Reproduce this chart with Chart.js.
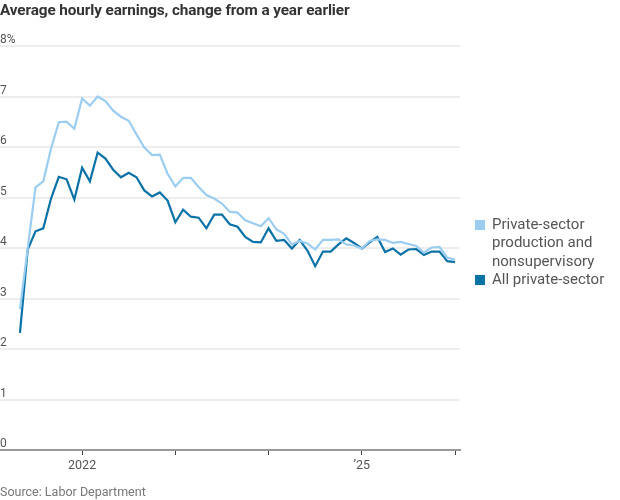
<!DOCTYPE html>
<html>
<head>
<meta charset="utf-8">
<script src="https://cdn.jsdelivr.net/npm/chart.js@4"></script>
<style>
    body { margin: 0; background: #fff; }
    #wrap { position: relative; width: 620px; height: 500px; overflow: hidden; }
    #chart { position: absolute; left: 0; top: 0; }
    .titulo { position: absolute; left: 0; top: 1px; font: bold 15.3px 'Roboto', sans-serif; color: #333; letter-spacing: -0.1px; }
    .fuente { position: absolute; left: 0; top: 484px; font: 12.5px 'Roboto', sans-serif; color: #777; }
    .leyenda { position: absolute; left: 475px; top: 215px; font: 15px 'Roboto', sans-serif; color: #555; line-height: 18.3px; }
    .leyenda div { position: relative; padding-left: 17px; }
    .leyenda span { position: absolute; left: 0; top: 5px; width: 10px; height: 10px; }
</style>
</head>
<body>
<div id="wrap">
    <canvas id="chart" width="620" height="500"></canvas>
    <div class="titulo">Average hourly earnings, change from a year earlier</div>
    <div class="leyenda">
        <div><span style="background:#9bcdf0"></span>Private-sector<br>production and<br>nonsupervisory</div>
        <div><span style="background:#0b72a8"></span>All private-sector</div>
    </div>
    <div class="fuente">Source: Labor Department</div>
</div>
<script>
// Meses desde mayo 2021 (0) hasta enero 2026 (56)
const meses = Array.from({ length: 57 }, (_, i) => i);

const produccion = [
    2.79, 4.00, 5.20, 5.32, 5.97, 6.49, 6.50, 6.36, 6.96, 6.82,
    7.00, 6.91, 6.72, 6.60, 6.52, 6.25, 5.99, 5.84, 5.85, 5.47,
    5.22, 5.39, 5.39, 5.21, 5.05, 4.98, 4.88, 4.72, 4.70, 4.55,
    4.49, 4.43, 4.59, 4.37, 4.28, 4.07, 4.14, 4.09, 3.97, 4.16,
    4.16, 4.17, 4.07, 4.05, 3.99, 4.14, 4.17, 4.16, 4.10, 4.12,
    4.08, 4.04, 3.91, 4.01, 4.02, 3.81, 3.77
];

const privado = [
    2.32, 3.97, 4.33, 4.39, 4.98, 5.41, 5.36, 4.96, 5.59, 5.32,
    5.89, 5.77, 5.55, 5.40, 5.49, 5.40, 5.14, 5.02, 5.10, 4.94,
    4.51, 4.76, 4.62, 4.60, 4.39, 4.66, 4.66, 4.47, 4.42, 4.22,
    4.12, 4.11, 4.39, 4.14, 4.16, 3.99, 4.16, 3.95, 3.64, 3.93,
    3.93, 4.07, 4.19, 4.10, 3.99, 4.11, 4.22, 3.92, 3.99, 3.87,
    3.97, 3.98, 3.86, 3.93, 3.93, 3.74, 3.72
];

const ticksX = [8, 20, 32, 44, 56];
const etiquetasX = { 8: '2022', 44: '\u201925' };

const ticksY = [0, 1, 2, 3, 4, 5, 6, 7, 8];

new Chart(document.getElementById('chart'), {
    type: 'line',
    data: {
        datasets: [
            { label: 'Private-sector production and nonsupervisory', data: meses.map((m, i) => ({ x: m, y: produccion[i] })), borderColor: '#9bcdf0', borderWidth: 2.2 },
            { label: 'All private-sector', data: meses.map((m, i) => ({ x: m, y: privado[i] })), borderColor: '#0b72a8', borderWidth: 2.2 }
        ]
    },
    options: {
        responsive: false,
        animation: false,
        layout: { padding: { left: 0, right: 160, top: 46, bottom: 24 } },
        elements: { point: { radius: 0 }, line: { tension: 0, borderJoinStyle: 'miter' } },
        plugins: { legend: { display: false }, tooltip: { enabled: false } },
        scales: {
            x: {
                type: 'linear', min: -2.57, max: 56.64,
                afterBuildTicks: s => { s.ticks = ticksX.map(v => ({ value: v })); },
                grid: { drawOnChartArea: false, drawTicks: true, tickLength: 5, color: '#444', lineWidth: 1 },
                border: { display: true, color: '#999', width: 2 },
                ticks: {
                    autoSkip: false, maxRotation: 0, padding: 3, color: '#555',
                    font: { family: 'Roboto, sans-serif', size: 12.5 },
                    callback: v => etiquetasX[v] || ''
                }
            },
            y: {
                min: 0, max: 8,
                afterBuildTicks: s => { s.ticks = ticksY.map(v => ({ value: v })); },
                border: { display: false },
                grid: { drawTicks: false, lineWidth: 2, color: c => c.tick && c.tick.value === 0 ? '#999' : '#ededed' },
                ticks: {
                    mirror: true, padding: 0, labelOffset: -6, color: '#555',
                    font: { family: 'Roboto, sans-serif', size: 12 },
                    callback: v => v === 8 ? '8%' : v
                }
            }
        }
    }
});
</script>
</body>
</html>
